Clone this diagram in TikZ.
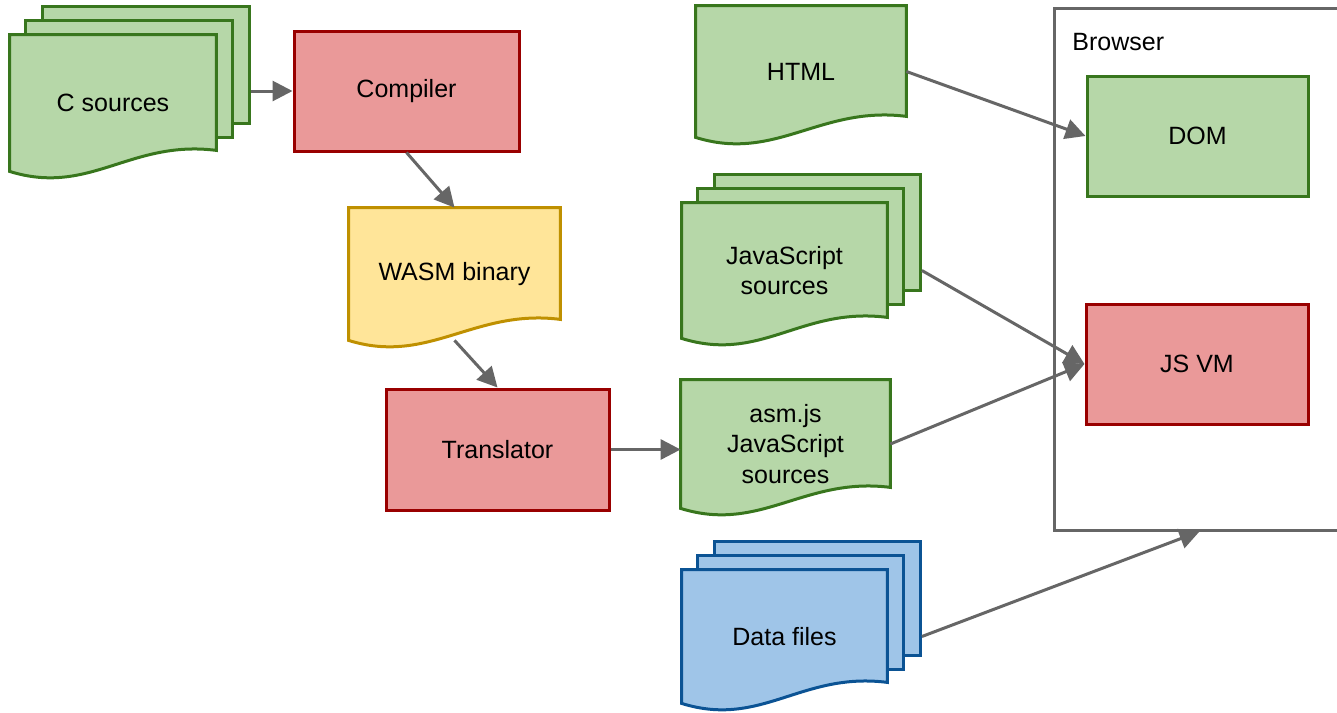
\documentclass[tikz,border=0pt]{standalone}
\usepackage{fontspec}
\setmainfont{Liberation Sans}
\usetikzlibrary{arrows.meta,calc,fit,backgrounds}

\definecolor{srcfill}{HTML}{B6D7A8}
\definecolor{srcline}{HTML}{38761D}
\definecolor{toolfill}{HTML}{EA9999}
\definecolor{toolline}{HTML}{990000}
\definecolor{binfill}{HTML}{FFE599}
\definecolor{binline}{HTML}{BF9000}
\definecolor{datafill}{HTML}{9FC5E8}
\definecolor{dataline}{HTML}{0B5394}
\definecolor{edgegray}{HTML}{666666}

\tikzset{
  box/.style={draw, line width=1.5pt, inner sep=0pt, align=center},
  doc/.style={inner sep=0pt, align=center},
  greenish/.style={fill=srcfill, draw=srcline},
  reddish/.style={fill=toolfill, draw=toolline},
  yellowish/.style={fill=binfill, draw=binline},
  blueish/.style={fill=datafill, draw=dataline},
  arr/.style={->, draw=edgegray, line width=1.5pt},
}

% wavy sheet under a doc node
\newcommand{\docshape}[2]{%
  \path[box, #2] (#1.north west) -- (#1.north east) -- ($(#1.south east)+(0,-21)$)
    .. controls ($(#1.south east)+(-86,-32)$) and ($(#1.south west)+(80,25)$) .. (#1.south west) -- cycle;}

% two plain sheets behind, then the wavy one
\newcommand{\docstack}[2]{%
  \coordinate (#1-b1) at ($(#1.north west)+(33,-28)$);
  \coordinate (#1-b2) at ($(#1.south east)+(33,-48)$);
  \coordinate (#1-m1) at ($(#1.north west)+(16,-14)$);
  \coordinate (#1-m2) at ($(#1.south east)+(16,-34)$);
  \node[box, #2, fit=(#1-b1)(#1-b2)] (#1-b) {};
  \node[box, #2, fit=(#1-m1)(#1-m2)] (#1-m) {};
  \docshape{#1}{#2}}

\begin{document}
\begin{tikzpicture}[x=0.5pt, y=-0.5pt, font=\fontsize{12.5}{15.25}\selectfont,
    >={Triangle[length=10pt,width=10pt]}]
\useasboundingbox (0,0) rectangle (1337,712);

% tools
\node[box, reddish, minimum width=112.5pt, minimum height=60pt] (compiler) at (406.5,91) {Compiler};
\node[box, reddish, minimum width=111.5pt, minimum height=60.5pt] (translator) at (497.5,449.5) {Translator};

% documents
\node[doc, minimum width=103pt, minimum height=68pt] (csrc) at (113,103) {C sources};
\node[doc, minimum width=105.5pt, minimum height=66pt] (wasm) at (454.5,274) {WASM binary};
\node[doc, minimum width=105pt, minimum height=65.5pt] (html) at (801,71.5) {HTML};
\node[doc, minimum width=102.5pt, minimum height=67.5pt] (jssrc) at (784.5,270.5) {JavaScript\\sources};
\node[doc, minimum width=104.5pt, minimum height=64pt] (asmjs) at (785.5,444) {asm.js\\JavaScript\\sources};
\node[doc, minimum width=102.5pt, minimum height=66.5pt] (data) at (784.5,636.5) {Data files};

% browser
\node[draw=edgegray, line width=1.5pt, inner sep=0pt, fit={(1054,8) (1345,530)}] (browser) {};
\node[anchor=west, inner sep=0pt] (browserlabel) at (1072,42) {Browser};
\node[box, greenish, minimum width=110.5pt, minimum height=60pt] (dom) at (1197.5,136) {DOM};
\node[box, reddish, minimum width=111pt, minimum height=60pt] (jsvm) at (1197,364) {JS VM};

\begin{scope}[on background layer]
  \docstack{csrc}{greenish}
  \docshape{wasm}{yellowish}
  \docshape{html}{greenish}
  \docstack{jssrc}{greenish}
  \docshape{asmjs}{greenish}
  \docstack{data}{blueish}
\end{scope}

% flows
\draw[arr] (csrc-b.east |- compiler.west) -- (compiler.west);
\draw[arr] (compiler.south) -- (wasm.north);
\draw[arr] (wasm.south) -- (translator.north);
\draw[arr] (translator.east) -- (translator.east -| asmjs.west);
\draw[arr] (html.east) -- (dom.west);
\draw[arr] (jssrc-b.east |- jssrc.east) -- (jsvm.west);
\draw[arr] (asmjs.east) -- (jsvm.west);
\draw[arr] (data-b.east |- data.east) -- (browser.south);
\end{tikzpicture}
\end{document}
